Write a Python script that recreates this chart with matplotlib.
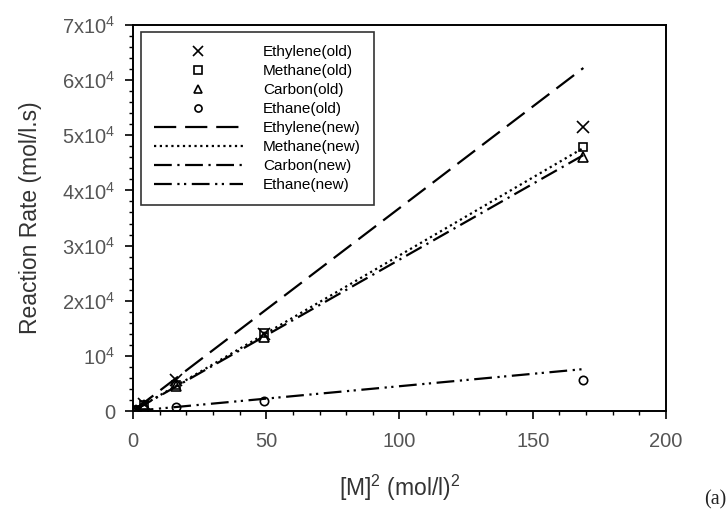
import matplotlib
matplotlib.use("Agg")
import matplotlib.pyplot as plt
from matplotlib.ticker import MultipleLocator

plt.rcParams['font.family'] = ['Liberation Sans', 'DejaVu Sans']
plt.rcParams['mathtext.fontset'] = 'custom'
plt.rcParams['mathtext.rm'] = 'Liberation Sans'
plt.rcParams['mathtext.it'] = 'Liberation Sans'

# measured ("old") data, x = [M]^2
x_old = [1, 4, 16, 49, 169]
ethylene_old = [300, 1300, 5600, 14000, 51500]
methane_old = [250, 1100, 4700, 14100, 47900]
carbon_old = [250, 1050, 4500, 13500, 46000]
ethane_old = [100, 300, 700, 1800, 5600]

# model ("new") lines, end points
x_new = [1, 169]
ethylene_new = [368, 62200]
methane_new = [282, 47700]
carbon_new = [274, 46400]
ethane_new = [45, 7600]

y_ticks = [0, 10000, 20000, 30000, 40000, 50000, 60000, 70000]
y_tick_labels = ['0', r'10$^4$', r'2x10$^4$', r'3x10$^4$', r'4x10$^4$',
                 r'5x10$^4$', r'6x10$^4$', r'7x10$^4$']
x_ticks = [0, 50, 100, 150, 200]

fig = plt.figure(figsize=(7.28, 5.13), dpi=100)
ax = fig.add_axes([0.1827, 0.1988, 0.7321, 0.7525])

mk = dict(color='black', linestyle='none', markerfacecolor='none',
          markeredgecolor='black', markeredgewidth=1.2)
ax.plot(x_old, ethylene_old, marker='x', markersize=9, label='Ethylene(old)', **mk)
ax.plot(x_old, methane_old, marker='s', markersize=6, label='Methane(old)', **mk)
ax.plot(x_old, carbon_old, marker='^', markersize=6.5, label='Carbon(old)', **mk)
ax.plot(x_old, ethane_old, marker='o', markersize=6, label='Ethane(old)', **mk)

lw = 1.6
ax.plot(x_new, ethylene_new, color='black', lw=lw, linestyle=(0, (10, 4)),
        label='Ethylene(new)')
ax.plot(x_new, methane_new, color='black', lw=lw, linestyle=(0, (1, 1.6)),
        label='Methane(new)')
ax.plot(x_new, carbon_new, color='black', lw=lw, linestyle=(0, (8, 2.5, 1, 2.5)),
        label='Carbon(new)')
ax.plot(x_new, ethane_new, color='black', lw=lw,
        linestyle=(0, (8, 2.5, 1, 2, 1, 2.5)), label='Ethane(new)')

ax.set_xlim(0, 200)
ax.set_ylim(0, 70000)
ax.set_xticks(x_ticks)
ax.xaxis.set_minor_locator(MultipleLocator(10))
ax.set_yticks(y_ticks)
ax.set_yticklabels(y_tick_labels)
ax.yaxis.set_minor_locator(MultipleLocator(2000))

ax.tick_params(axis='both', which='major', direction='out', length=6, width=1.2,
               labelsize=14.5, labelcolor='#555555')
ax.tick_params(axis='x', which='major', pad=9)
ax.tick_params(axis='y', which='major', pad=7)
ax.tick_params(axis='both', which='minor', direction='out', length=3, width=1.0)
for s in ax.spines.values():
    s.set_linewidth(1.4)

ax.set_ylabel('Reaction Rate (mol/l.s)', fontsize=16.5, color='#333333', labelpad=14)
ax.set_xlabel(r'[M]$^2$ (mol/l)$^2$', fontsize=16.5, color='#333333', labelpad=16)

leg = ax.legend(loc='upper left', bbox_to_anchor=(0.015, 0.982), borderaxespad=0,
                fontsize=11, frameon=True, fancybox=False, edgecolor='black',
                handlelength=5.8, handletextpad=1.35, labelspacing=0.33,
                borderpad=0.85, markerscale=0.85)
leg.get_frame().set_linewidth(1.2)

fig.text(0.998, 0.025, '(a)', fontsize=14.5, family='Liberation Serif',
         ha='right', va='center', color='#222222')

fig.savefig('out.png', dpi=100)
